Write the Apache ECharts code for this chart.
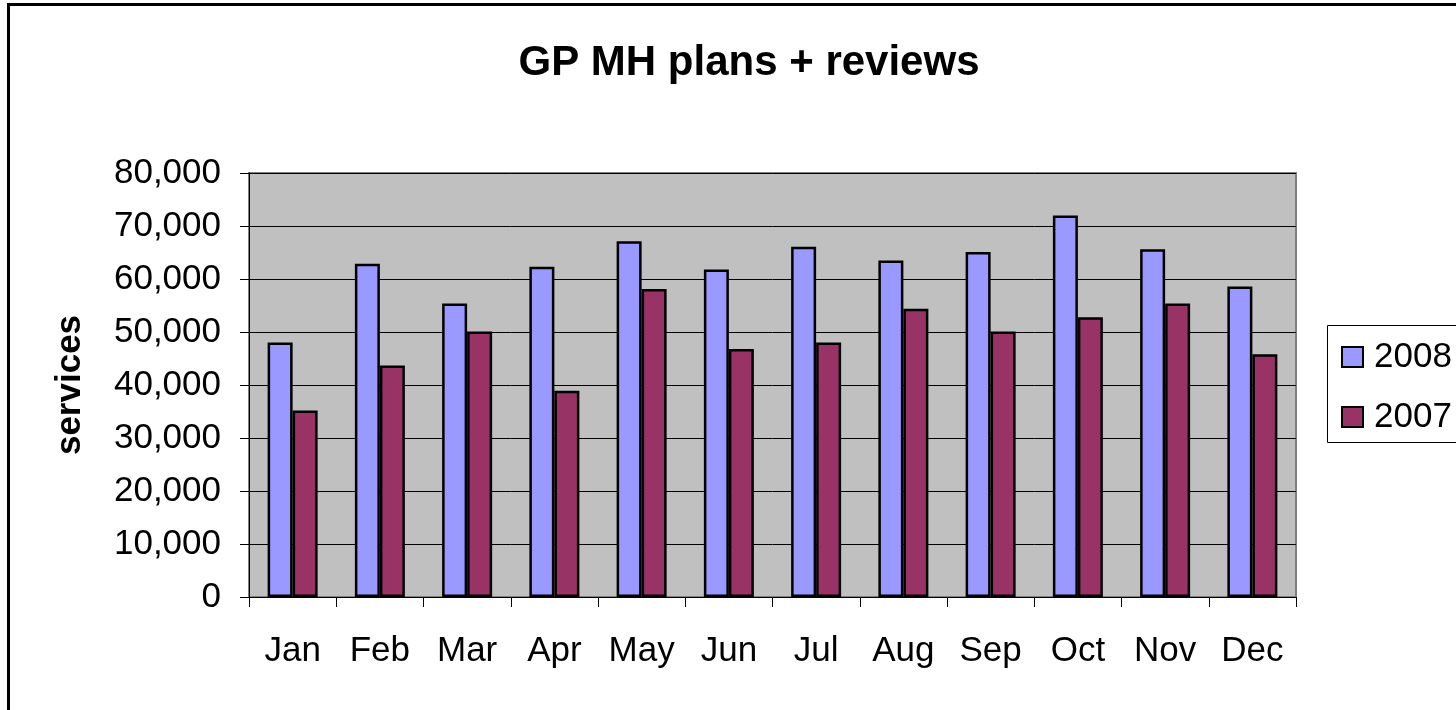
<!DOCTYPE html>
<html>
<head>
<meta charset="utf-8">
<script src="https://cdn.jsdelivr.net/npm/echarts@6/dist/echarts.min.js"></script>
<style>
  html, body { margin: 0; padding: 0; background: #fff; }
  #chart { width: 1456px; height: 710px; }
</style>
</head>
<body>
<div id="chart"></div>
<script>
// data
const months = ["Jan", "Feb", "Mar", "Apr", "May", "Jun", "Jul", "Aug", "Sep", "Oct", "Nov", "Dec"];
const services2008 = [48000, 62900, 55400, 62300, 67100, 61800, 66100, 63500, 65100, 72000, 65600, 58600];
const services2007 = [35200, 43700, 50100, 38900, 58100, 46800, 48000, 54400, 50100, 52800, 55400, 45800];

const FONT = "Liberation Sans, Arial, sans-serif";

var chart = echarts.init(document.getElementById("chart"));
chart.setOption({
  animation: false,
  backgroundColor: "#fff",
  title: {
    text: "GP MH plans + reviews",
    left: 744,
    textAlign: "center",
    top: 37,
    textStyle: { fontFamily: FONT, fontSize: 42, fontWeight: "bold", color: "#000" },
  },
  graphic: [
    {
      // outer chart frame
      type: "rect",
      shape: { x: 8.5, y: 4.5, width: 1500, height: 760 },
      style: { fill: "none", stroke: "#000", lineWidth: 3 },
      silent: true,
    },
    {
      // legend box
      type: "rect",
      shape: { x: 1327.5, y: 325.5, width: 200, height: 117 },
      style: { fill: "none", stroke: "#000", lineWidth: 1 },
      silent: true,
    },
  ],
  legend: {
    orient: "vertical",
    left: 1341,
    top: 337,
    padding: 0,
    itemWidth: 21,
    itemHeight: 20,
    itemGap: 20,
    icon: "rect",
    textStyle: { fontFamily: FONT, fontSize: 35, lineHeight: 40, color: "#000", padding: [0, 0, 0, 6] },
    data: ["2008", "2007"],
  },
  grid: {
    left: 249,
    top: 173,
    width: 1047,
    height: 424,
    show: true,
    backgroundColor: "#C0C0C0",
    borderColor: "#808080",
    borderWidth: 2,
  },
  xAxis: {
    type: "category",
    data: months,
    axisLine: { show: true, lineStyle: { color: "#000", width: 1 } },
    axisTick: { show: true, length: 10, lineStyle: { color: "#000" } },
    axisLabel: { fontFamily: FONT, fontSize: 35, color: "#000", margin: 37 },
  },
  yAxis: {
    type: "value",
    min: 0,
    max: 80000,
    interval: 10000,
    name: "services",
    nameLocation: "middle",
    nameRotate: 90,
    nameGap: 161,
    nameTextStyle: { fontFamily: FONT, fontSize: 35, fontWeight: "bold", color: "#000" },
    axisLine: { show: true, lineStyle: { color: "#000", width: 1 } },
    axisTick: { show: true, length: 9, lineStyle: { color: "#000" } },
    axisLabel: {
      fontFamily: FONT,
      fontSize: 35,
      color: "#000",
      margin: 28,
      formatter: (v) => v.toLocaleString("en-US"),
    },
    splitLine: { show: true, lineStyle: { color: "#000", width: 1 } },
  },
  series: [
    {
      name: "2008",
      type: "bar",
      data: services2008,
      barWidth: 25,
      barGap: "0%",
      itemStyle: { color: "#9999FF", borderColor: "#000", borderWidth: 2.5 },
    },
    {
      name: "2007",
      type: "bar",
      data: services2007,
      barWidth: 25,
      itemStyle: { color: "#993366", borderColor: "#000", borderWidth: 2.5 },
    },
  ],
});
</script>
</body>
</html>
